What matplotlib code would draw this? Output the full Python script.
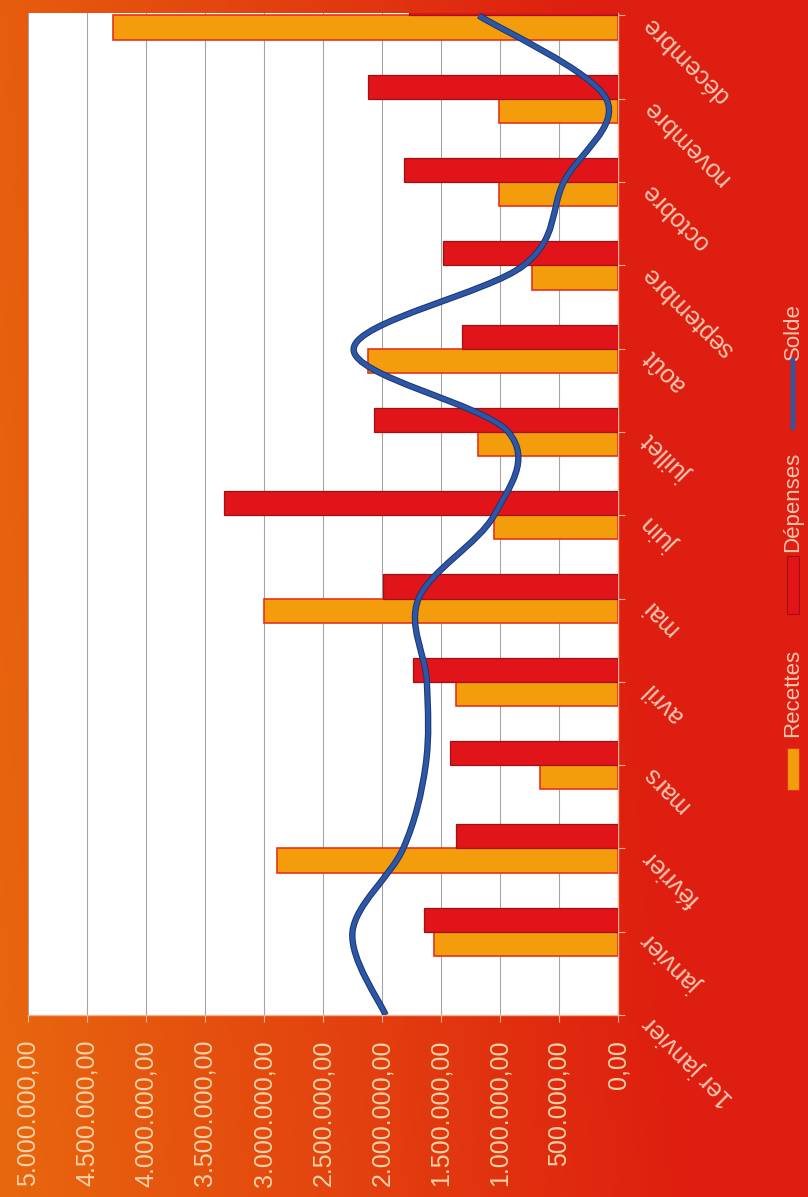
import matplotlib

matplotlib.use("Agg")
import matplotlib.patheffects as pe  # noqa: E402
import matplotlib.pyplot as plt  # noqa: E402
import numpy as np  # noqa: E402
from matplotlib.lines import Line2D  # noqa: E402
from matplotlib.patches import PathPatch, Rectangle  # noqa: E402
from matplotlib.path import Path  # noqa: E402

plt.rcParams["font.family"] = ["Liberation Sans", "DejaVu Sans"]

# %%
# Data (euros)
# ------------------------------------------

categories = ["1er janvier", "janvier", "février", "mars", "avril", "mai", "juin",
              "juillet", "août", "septembre", "octobre", "novembre", "décembre"]
# bars exist for the 12 months only (no bar on "1er janvier")
recettes = [1_560_000, 2_890_000, 660_000, 1_370_000, 3_000_000, 1_050_000,
            1_190_000, 2_120_000, 730_000, 1_010_000, 1_010_000, 4_280_000]
depenses = [1_640_000, 1_370_000, 1_420_000, 1_740_000, 1_990_000, 3_340_000,
            2_070_000, 1_320_000, 1_480_000, 1_810_000, 2_120_000, 1_770_000]
solde = [1_970_000, 2_250_000, 1_820_000, 1_630_000, 1_620_000, 1_690_000, 1_050_000,
         930_000, 2_240_000, 800_000, 460_000, 100_000, 1_180_000]
value_ticks = [0, 500_000, 1_000_000, 1_500_000, 2_000_000, 2_500_000,
               3_000_000, 3_500_000, 4_000_000, 4_500_000, 5_000_000]
series_names = ["Recettes", "Dépenses", "Solde"]

C_REC = "#F39C0C"
C_DEP = "#E01419"
C_SOLDE = "#2C56A6"
C_TXT_VAL = "#F6D2A6"
C_TXT_CAT = "#F5C6B0"
C_AXIS = "#F2B48E"

W, H = 808, 1197


def fr_money(v):
    s = f"{v:,.2f}"
    return s.replace(",", "X").replace(".", ",").replace("X", ".")


def smooth_path(xs, ys):
    """Excel-style smoothed line: Catmull-Rom segments as cubic Beziers."""
    pts = np.column_stack([xs, ys]).astype(float)
    n = len(pts)
    verts = [pts[0]]
    codes = [Path.MOVETO]
    for i in range(n - 1):
        p0 = pts[max(i - 1, 0)]
        p1 = pts[i]
        p2 = pts[i + 1]
        p3 = pts[min(i + 2, n - 1)]
        verts += [p1 + (p2 - p0) / 6, p2 - (p3 - p1) / 6, p2]
        codes += [Path.CURVE4] * 3
    return Path(verts, codes)


fig = plt.figure(figsize=(W / 100, H / 100), dpi=100)

# orange -> red background (the scan is the chart turned a quarter turn)
bg = fig.add_axes([0, 0, 1, 1], zorder=-5)
xx = np.linspace(0, 1, 400)
yy = np.linspace(0, 1, 400)
X, Y = np.meshgrid(xx, yy)
t = np.clip((X + 0.12 * (1 - Y)) / 0.85, 0, 1)[..., None]
c0 = np.array([232, 104, 14]) / 255
c1 = np.array([222, 30, 16]) / 255
bg.imshow(c0 * (1 - t) + c1 * t, aspect="auto", extent=[0, 1, 0, 1], origin="upper")
bg.axis("off")

ax = fig.add_axes([28 / W, (H - 1015) / H, 590 / W, 1002 / H])
ax.set_facecolor("white")

pos = np.arange(1, len(categories))
h = 0.29
ax.barh(pos - h / 2, recettes, height=h, color=C_REC, edgecolor="#E8321C", lw=1.2, zorder=3)
ax.barh(pos + h / 2, depenses, height=h, color=C_DEP, edgecolor="#A01212", lw=0.9, zorder=3)

curve = smooth_path(solde, np.arange(len(categories)))
ax.add_patch(PathPatch(curve, fill=False, edgecolor=C_SOLDE, lw=3.2, zorder=4,
                       path_effects=[pe.Stroke(linewidth=4.6, foreground="#1D3470"), pe.Normal()]))

ax.set_xlim(5_000_000, 0)
ax.set_ylim(0, 12.03)

ax.set_xticks(value_ticks)
ax.set_xticklabels([fr_money(v) for v in value_ticks])
ax.tick_params(axis="x", direction="out", length=5, color=C_AXIS, labelsize=18,
               labelcolor=C_TXT_VAL, pad=13, labelrotation=90)

ax.yaxis.tick_right()
ax.set_yticks(np.arange(len(categories)))
ax.set_yticklabels(categories)
ax.tick_params(axis="y", direction="out", length=5, color=C_AXIS, labelsize=18,
               labelcolor=C_TXT_CAT, pad=19)
for lbl in ax.get_yticklabels():
    lbl.set_rotation(135)
    lbl.set_rotation_mode("anchor")
    lbl.set_ha("right")
    lbl.set_va("baseline")

ax.xaxis.grid(True, color="#a4a4a4", lw=0.8)
ax.set_axisbelow(True)
for side in ("left", "top"):
    ax.spines[side].set_visible(False)
for side in ("right", "bottom"):
    ax.spines[side].set_color(C_AXIS)
    ax.spines[side].set_linewidth(1.0)

# legend, turned like the rest of the scan (key below its text)
lx = 793 / W
leg = [("Recettes", 693, "patch", C_REC, "#E8321C", 748, 790),
       ("Dépenses", 502, "patch", C_DEP, "#A01212", 556, 614),
       ("Solde", 332, "line", C_SOLDE, None, 360, 428)]
for name, ty, kind, col, ec, k0, k1 in leg:
    fig.text(lx, 1 - ty / H, name, rotation=90, ha="center", va="center",
             fontsize=16, color=C_TXT_CAT)
    if kind == "patch":
        fig.patches.append(Rectangle((787 / W, 1 - k1 / H), 12 / W, (k1 - k0) / H,
                                     transform=fig.transFigure, facecolor=col,
                                     edgecolor=ec, lw=0.8))
    else:
        fig.lines.append(Line2D([lx, lx], [1 - k0 / H, 1 - k1 / H], transform=fig.transFigure,
                                color=col, lw=3.2))

fig.savefig("out.png", dpi=100)
